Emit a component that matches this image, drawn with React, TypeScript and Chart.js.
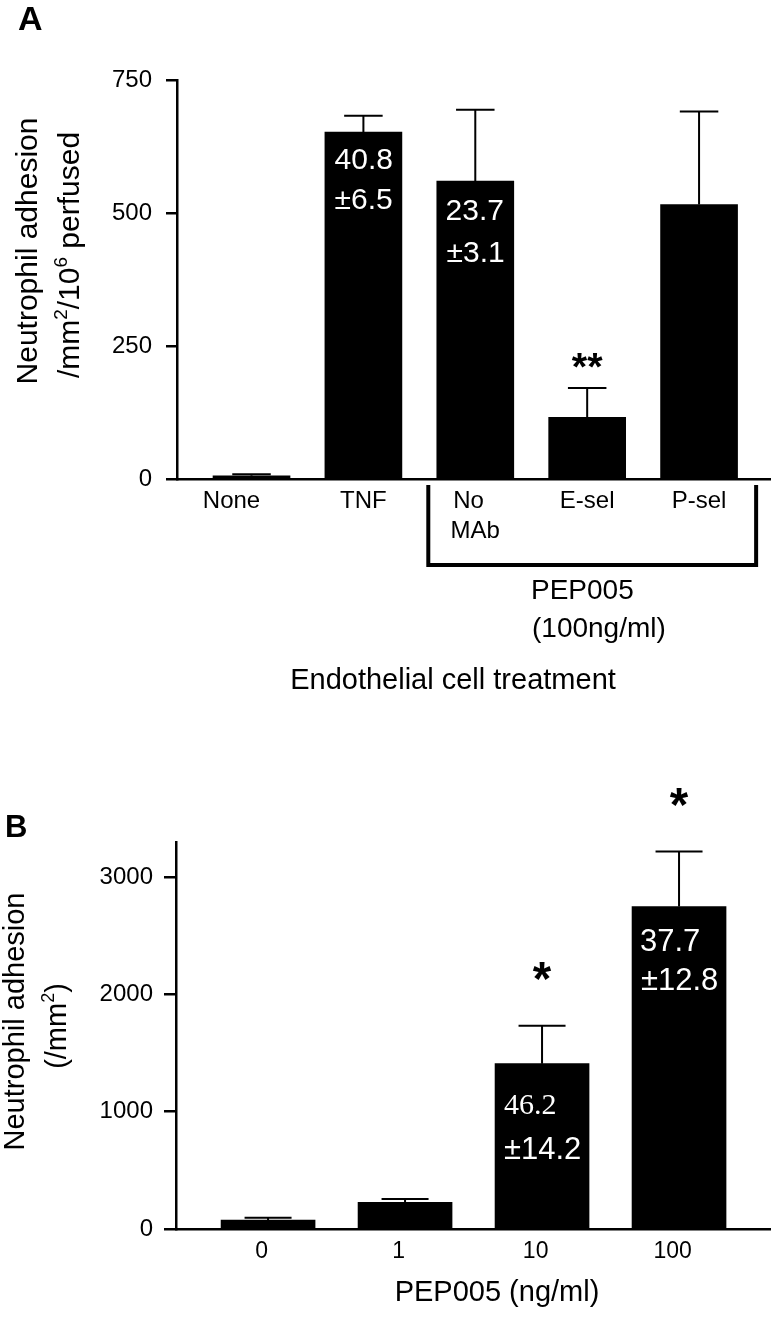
import React, { useEffect, useRef } from "react";
import { Chart, registerables } from "chart.js";

Chart.register(...registerables);

const SANS = "'Liberation Sans', Arial, Helvetica, sans-serif";
const SERIF = "'Liberation Serif', 'Times New Roman', Times, serif";

// ---------- Panel A data ----------
const aCategories = ["None", "TNF", "No MAb", "E-sel", "P-sel"];
const aTickLabels: (string | string[])[] = ["None      ", "TNF", ["No  ", "MAb"], "E-sel", "P-sel"];
const aMeans = [6, 652, 560, 116, 516];
const aErrors = [3, 31, 134, 55, 175];
const aYTicks = [0, 250, 500, 750];
const aStars = ["", "", "", "**", ""];
const aNotes: (string[] | null)[] = [null, ["40.8", "±6.5"], ["23.7", "±3.1"], null, null];

// ---------- Panel B data ----------
const bCategories = ["0", "1", "10", "100"];
const bTickLabels = ["0  ", "1  ", "10  ", "100  "];
const bMeans = [75, 227, 1410, 2750];
const bErrors = [20, 29, 323, 468];
const bYTicks = [0, 1000, 2000, 3000];
const bStars = ["", "", "*", "*"];
const bNotes: (string[] | null)[] = [null, null, ["46.2", "±14.2"], ["37.7", "±12.8"]];

type NoteStyle = { fonts: string[]; tops: number[] } | null;
const aNoteStyle: NoteStyle[] = [
  null,
  { fonts: [`30px ${SANS}`, `30px ${SANS}`], tops: [17, 57] },
  { fonts: [`30px ${SANS}`, `30px ${SANS}`], tops: [19, 61] },
  null,
  null,
];
const bNoteStyle: NoteStyle[] = [
  null,
  null,
  { fonts: [`30px ${SERIF}`, `31px ${SANS}`], tops: [31, 73] },
  { fonts: [`31px ${SANS}`, `31px ${SANS}`], tops: [22, 61] },
];

function inkText(ctx: CanvasRenderingContext2D, text: string, font: string, x: number, inkTop: number, align: "left" | "center", color = "#000") {
  ctx.font = font;
  ctx.textBaseline = "alphabetic";
  ctx.textAlign = align;
  ctx.fillStyle = color;
  const m = ctx.measureText(text);
  const y = inkTop + m.actualBoundingBoxAscent;
  const xx = align === "left" ? x + m.actualBoundingBoxLeft : x;
  ctx.fillText(text, xx, y);
}

function starText(ctx: CanvasRenderingContext2D, text: string, cx: number, cy: number, inkH: number) {
  ctx.textAlign = "center";
  ctx.textBaseline = "alphabetic";
  ctx.font = `bold 100px ${SANS}`;
  const m0 = ctx.measureText("*");
  const h0 = m0.actualBoundingBoxAscent + m0.actualBoundingBoxDescent || 30;
  const size = (100 * inkH) / h0;
  ctx.font = `bold ${size}px ${SANS}`;
  const m = ctx.measureText(text);
  const base = cy + (m.actualBoundingBoxAscent - m.actualBoundingBoxDescent) / 2;
  ctx.fillStyle = "#000";
  ctx.fillText(text, cx, base);
}

type Seg = { t: string; sup?: boolean };
function vertRich(ctx: CanvasRenderingContext2D, segs: Seg[], baseX: number, centerY: number, size: number, supSize: number, raise: number) {
  ctx.save();
  ctx.translate(baseX, centerY);
  ctx.rotate(-Math.PI / 2);
  ctx.textBaseline = "alphabetic";
  ctx.textAlign = "left";
  ctx.fillStyle = "#000";
  const fonts = segs.map((s) => `${s.sup ? supSize : size}px ${SANS}`);
  let total = 0;
  const widths = segs.map((s, i) => {
    ctx.font = fonts[i];
    const w = ctx.measureText(s.t).width;
    total += w;
    return w;
  });
  let x = -total / 2;
  segs.forEach((s, i) => {
    ctx.font = fonts[i];
    ctx.fillText(s.t, x, s.sup ? -raise : 0);
    x += widths[i];
  });
  ctx.restore();
}

type Panel = {
  means: number[];
  errors: number[];
  tickLabels: (string | string[])[];
  yTicks: number[];
  yMax: number;
  xMin: number;
  xMax: number;
  barThickness: number;
  area: { left: number; right: number; top: number; bottom: number };
  canvasH: number;
  xFont: number;
  xLineHeight: number;
  xPad: number;
  tickLen: number;
  yPad: number;
  stars: string[];
  starInk: number;
  starGap: number;
  notes: (string[] | null)[];
  noteStyles: NoteStyle[];
  decorate: (chart: any) => void;
};

function buildConfig(p: Panel): any {
  const marks = {
    id: "marks",
    afterDatasetsDraw(chart: any) {
      const ctx: CanvasRenderingContext2D = chart.ctx;
      const ys = chart.scales.y;
      const meta = chart.getDatasetMeta(0);
      ctx.save();
      meta.data.forEach((bar: any, i: number) => {
        const capY = ys.getPixelForValue(p.means[i] + p.errors[i]);
        const half = bar.width / 4;
        ctx.strokeStyle = "#000";
        ctx.lineWidth = 2;
        ctx.beginPath();
        ctx.moveTo(bar.x, bar.y);
        ctx.lineTo(bar.x, capY);
        ctx.moveTo(bar.x - half, capY);
        ctx.lineTo(bar.x + half, capY);
        ctx.stroke();
        if (p.stars[i]) starText(ctx, p.stars[i], bar.x, capY - p.starGap, p.starInk);
        const note = p.notes[i];
        const st = p.noteStyles[i];
        if (note && st) {
          let maxW = 0;
          note.forEach((t, k) => {
            ctx.font = st.fonts[k];
            const m = ctx.measureText(t);
            maxW = Math.max(maxW, m.actualBoundingBoxRight + m.actualBoundingBoxLeft);
          });
          const left = bar.x - maxW / 2;
          note.forEach((t, k) => inkText(ctx, t, st.fonts[k], left, bar.y + st.tops[k], "left", "#fff"));
        }
      });
      ctx.restore();
    },
  };
  const deco = {
    id: "deco",
    afterDraw(chart: any) {
      chart.ctx.save();
      p.decorate(chart);
      chart.ctx.restore();
    },
  };
  return {
    type: "bar",
    data: {
      datasets: [
        {
          data: p.means.map((v, i) => ({ x: i + 1, y: v })),
          backgroundColor: "#000",
          borderWidth: 0,
          barThickness: p.barThickness,
        },
      ],
    },
    options: {
      animation: false,
      responsive: false,
      devicePixelRatio: 1,
      events: [],
      layout: { padding: { top: p.area.top, right: 776 - p.area.right, left: 0, bottom: 0 } },
      plugins: { legend: { display: false }, tooltip: { enabled: false }, title: { display: false } },
      scales: {
        x: {
          type: "linear",
          min: p.xMin,
          max: p.xMax,
          offset: false,
          afterBuildTicks: (s: any) => {
            s.ticks = p.tickLabels.map((_, i) => ({ value: i + 1 }));
          },
          afterFit: (s: any) => {
            s.height = p.canvasH - p.area.bottom;
          },
          grid: { display: false, drawTicks: false },
          border: { display: true, color: "#000", width: 2.5 },
          ticks: {
            autoSkip: false,
            maxRotation: 0,
            minRotation: 0,
            padding: p.xPad,
            color: "#000",
            font: { family: SANS, size: p.xFont, lineHeight: p.xLineHeight },
            callback: (_v: any, i: number) => p.tickLabels[i],
          },
        },
        y: {
          type: "linear",
          min: 0,
          max: p.yMax,
          afterBuildTicks: (s: any) => {
            s.ticks = p.yTicks.map((v) => ({ value: v }));
          },
          afterFit: (s: any) => {
            s.width = p.area.left;
          },
          grid: { display: true, drawOnChartArea: false, drawTicks: true, tickLength: p.tickLen, color: "#000", lineWidth: 2.5 },
          border: { display: true, color: "#000", width: 2.5 },
          ticks: {
            padding: p.yPad,
            color: "#000",
            font: { family: SANS, size: 24 },
            callback: (v: any) => String(v),
          },
        },
      },
    },
    plugins: [marks, deco],
  };
}

const bracketFrom = 2.58;
const bracketTo = 5.51;

export default function App() {
  const refA = useRef<HTMLCanvasElement>(null);
  const refB = useRef<HTMLCanvasElement>(null);

  useEffect(() => {
    const panelA: Panel = {
      means: aMeans,
      errors: aErrors,
      tickLabels: aTickLabels,
      yTicks: aYTicks,
      yMax: 750,
      xMin: 0.334,
      xMax: 5.634,
      barThickness: 77,
      area: { left: 177, right: 770, top: 80, bottom: 479 },
      canvasH: 720,
      xFont: 24,
      xLineHeight: 1.25,
      xPad: 7,
      tickLen: 11,
      yPad: 14,
      stars: aStars,
      starInk: 15,
      starGap: 28,
      notes: aNotes,
      noteStyles: aNoteStyle,
      decorate: (chart: any) => {
        const ctx: CanvasRenderingContext2D = chart.ctx;
        const xs = chart.scales.x;
        const area = chart.chartArea;
        inkText(ctx, "A", `bold 34px ${SANS}`, 18, 7, "left");
        vertRich(ctx, [{ t: "Neutrophil adhesion" }], 37, 251, 30, 19, 12);
        vertRich(ctx, [{ t: "/mm" }, { t: "2", sup: true }, { t: "/10" }, { t: "6", sup: true }, { t: " perfused" }], 79, 255, 30, 19, 12);
        const bl = xs.getPixelForValue(bracketFrom);
        const br = xs.getPixelForValue(bracketTo);
        ctx.strokeStyle = "#000";
        ctx.lineWidth = 4;
        ctx.lineJoin = "miter";
        ctx.beginPath();
        ctx.moveTo(bl, area.bottom + 6);
        ctx.lineTo(bl, 565);
        ctx.lineTo(br, 565);
        ctx.lineTo(br, area.bottom + 6);
        ctx.stroke();
        inkText(ctx, "PEP005", `28px ${SANS}`, 533, 580, "left");
        inkText(ctx, "(100ng/ml)", `28px ${SANS}`, 533, 617, "left");
        inkText(ctx, "Endothelial cell treatment", `29px ${SANS}`, 453, 667, "center");
      },
    };
    const panelB: Panel = {
      means: bMeans,
      errors: bErrors,
      tickLabels: bTickLabels,
      yTicks: bYTicks,
      yMax: 3300,
      xMin: 0.328,
      xMax: 4.664,
      barThickness: 94,
      area: { left: 176, right: 770, top: 122, bottom: 509 },
      canvasH: 605,
      xFont: 23,
      xLineHeight: 1.2,
      xPad: 9,
      tickLen: 12,
      yPad: 11,
      stars: bStars,
      starInk: 18,
      starGap: 55,
      notes: bNotes,
      noteStyles: bNoteStyle,
      decorate: (chart: any) => {
        const ctx: CanvasRenderingContext2D = chart.ctx;
        inkText(ctx, "B", `bold 31px ${SANS}`, 7, 95, "left");
        vertRich(ctx, [{ t: "Neutrophil adhesion" }], 24, 301.5, 29, 18, 12);
        vertRich(ctx, [{ t: "(/mm" }, { t: "2", sup: true }, { t: ")" }], 66, 306, 29, 18, 12);
        inkText(ctx, "PEP005 (ng/ml)", `29px ${SANS}`, 497, 559, "center");
      },
    };
    const ca = new Chart(refA.current as HTMLCanvasElement, buildConfig(panelA));
    const cb = new Chart(refB.current as HTMLCanvasElement, buildConfig(panelB));
    return () => {
      ca.destroy();
      cb.destroy();
    };
  }, []);

  return (
    <div style={{ position: "absolute", left: 0, top: 0, width: 776, height: 1325, background: "#fff" }}>
      <canvas
        ref={refA}
        width={776}
        height={720}
        aria-label={`Panel A: ${aCategories.join(", ")}`}
        style={{ position: "absolute", left: 0, top: 0, width: 776, height: 720 }}
      />
      <canvas
        ref={refB}
        width={776}
        height={605}
        aria-label={`Panel B: ${bCategories.join(", ")}`}
        style={{ position: "absolute", left: 0, top: 720, width: 776, height: 605 }}
      />
    </div>
  );
}
